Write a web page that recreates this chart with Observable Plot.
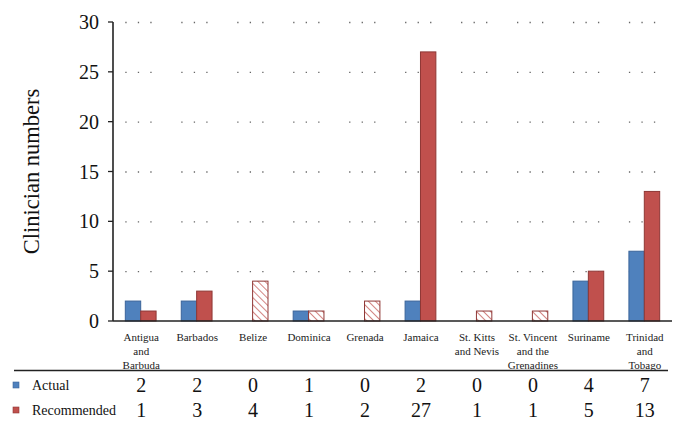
<!DOCTYPE html>
<html>
<head>
<meta charset="utf-8">
<script src="https://cdn.jsdelivr.net/npm/d3@7"></script>
<script src="https://cdn.jsdelivr.net/npm/@observablehq/plot@0.6"></script>
<style>
  html, body { margin: 0; padding: 0; background: #fff; }
  #chart { width: 675px; height: 434px; }
</style>
</head>
<body>
<div id="chart"></div>
<script>
const countries = ["Antigua and Barbuda", "Barbados", "Belize", "Dominica", "Grenada", "Jamaica", "St. Kitts and Nevis", "St. Vincent and the Grenadines", "Suriname", "Trinidad and Tobago"];
const countryLabels = ["Antigua\nand\nBarbuda", "Barbados", "Belize", "Dominica", "Grenada", "Jamaica", "St. Kitts\nand Nevis", "St. Vincent\nand the\nGrenadines", "Suriname", "Trinidad\nand\nTobago"];
const actual = [2, 2, 0, 1, 0, 2, 0, 0, 4, 7];
const recommended = [1, 3, 4, 1, 2, 27, 1, 1, 5, 13];
const hatchedRecommended = [false, false, true, true, true, false, true, true, false, false];
const series = ["Actual", "Recommended"];
const yTicks = [0, 5, 10, 15, 20, 25, 30];
const gridTicks = [5, 10, 15, 20, 25, 30];

const colors = {Actual: "#4f81bd", Recommended: "#c0504d"};
const strokes = {Actual: "#3a649a", Recommended: "#8e3735"};

const bars = [];
countries.forEach((c, i) => {
  bars.push({country: c, series: "Actual", value: actual[i], hatched: false});
  bars.push({country: c, series: "Recommended", value: recommended[i], hatched: hatchedRecommended[i]});
});
const labelRows = countries.map((c, i) => ({country: c, label: countryLabels[i], actual: actual[i], recommended: recommended[i]}));

const font = "'Liberation Serif', 'DejaVu Serif', serif";

const plot = Plot.plot({
  width: 675,
  height: 434,
  marginTop: 22,
  marginBottom: 113,
  marginLeft: 113,
  marginRight: 3,
  style: {fontFamily: font, background: "#fff", overflow: "visible"},
  fx: {domain: countries, paddingInner: 0.45, paddingOuter: 0.22, round: false, axis: null},
  x: {domain: series, padding: 0, round: false, axis: null},
  y: {domain: [0, 30], axis: null},
  marks: [
    Plot.ruleY(gridTicks, {y: d => d, stroke: "#666", strokeWidth: 1.3, strokeDasharray: "1.3,11.2", facet: "exclude", fx: null}),
    Plot.barY(bars, {
      fx: "country", x: "series", y: "value", inset: 0,
      fill: d => d.hatched ? "url(#hatchRed)" : colors[d.series],
      stroke: d => strokes[d.series], strokeWidth: 1
    }),
    Plot.text(labelRows, {fx: "country", text: "label", frameAnchor: "bottom", dy: 10, lineAnchor: "top", fontSize: 11, lineHeight: 1.25, fill: "#222"}),
    Plot.text(labelRows, {fx: "country", text: d => String(d.actual), frameAnchor: "bottom", dy: 70, fontSize: 20, fill: "#111"}),
    Plot.text(labelRows, {fx: "country", text: d => String(d.recommended), frameAnchor: "bottom", dy: 95, fontSize: 20, fill: "#111"})
  ]
});

const svg = d3.select(plot);
const defs = svg.insert("defs", ":first-child");
const pat = defs.append("pattern")
  .attr("id", "hatchRed")
  .attr("patternUnits", "userSpaceOnUse")
  .attr("width", 5).attr("height", 5)
  .attr("patternTransform", "rotate(-45)");
pat.append("rect").attr("width", 5).attr("height", 5).attr("fill", "#fff");
pat.append("line").attr("x1", 0).attr("y1", 0).attr("x2", 0).attr("y2", 5)
  .attr("stroke", "#c0504d").attr("stroke-width", 1.4);

document.getElementById("chart").appendChild(plot);

const yScale = d3.scaleLinear().domain([0, 30]).range([434 - 113, 22]);
const left = 113, right = 672;
const g = svg.append("g").attr("font-family", font).attr("text-anchor", "start");

g.append("line").attr("x1", left).attr("x2", left).attr("y1", yScale(30)).attr("y2", yScale(0)).attr("stroke", "#222").attr("stroke-width", 1.6);
g.append("line").attr("x1", left).attr("x2", right).attr("y1", yScale(0)).attr("y2", yScale(0)).attr("stroke", "#222").attr("stroke-width", 1.6);
yTicks.forEach(t => {
  g.append("line").attr("x1", left - 5).attr("x2", left).attr("y1", yScale(t)).attr("y2", yScale(t)).attr("stroke", "#222").attr("stroke-width", 1.3);
  g.append("text").attr("x", left - 14).attr("y", yScale(t)).attr("dy", "0.35em").attr("text-anchor", "end")
    .attr("font-size", 20).attr("fill", "#111").text(t);
});
g.append("text").attr("transform", `translate(31,${yScale(15)}) rotate(-90)`).attr("text-anchor", "middle")
  .attr("dy", "0.35em").attr("font-size", 22.5).attr("fill", "#111").text("Clinician numbers");

g.append("line").attr("x1", 14).attr("x2", 668).attr("y1", 370.5).attr("y2", 370.5).attr("stroke", "#222").attr("stroke-width", 1.3);
series.forEach((s, i) => {
  const cy = 385 + i * 25;
  g.append("rect").attr("x", 13).attr("y", cy - 3).attr("width", 6).attr("height", 6).attr("fill", colors[s]).attr("stroke", strokes[s]).attr("stroke-width", 0.6);
  g.append("text").attr("x", 32).attr("y", cy).attr("dy", "0.35em").attr("text-anchor", "start").attr("font-size", 14).attr("fill", "#111").text(s);
});
</script>
</body>
</html>
